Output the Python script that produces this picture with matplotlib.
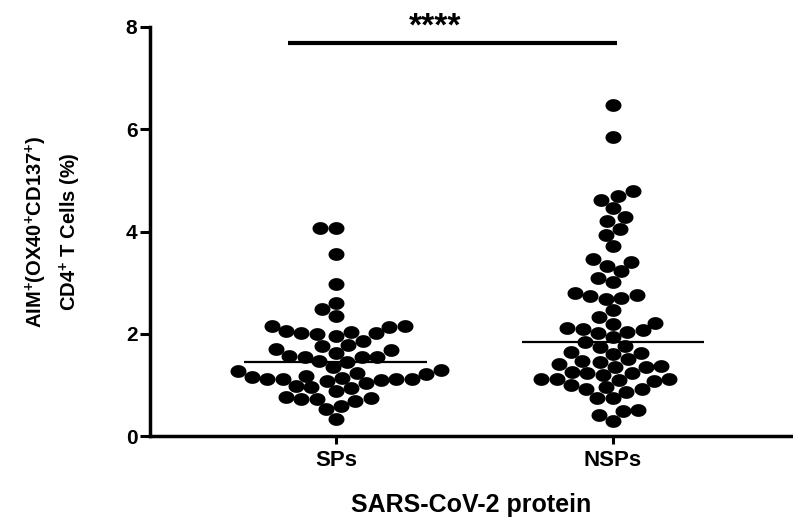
#!python3

## Import General Tools
import numpy as np
from matplotlib import pyplot as plt

plt.rcParams['font.family'] = ['Liberation Sans', 'DejaVu Sans']
plt.rcParams['font.weight'] = 'bold'
plt.rcParams['mathtext.fontset'] = 'custom'
plt.rcParams['mathtext.default'] = 'bf'
plt.rcParams['mathtext.bf'] = 'Liberation Sans:bold'
plt.rcParams['mathtext.rm'] = 'Liberation Sans:bold'

##-------------------------------------------------------------------------
## Data
##-------------------------------------------------------------------------
groups = ['SPs', 'NSPs']
sps = [4.07, 4.07, 3.56, 2.97, 2.61, 2.48, 2.35,
       2.05, 2.01, 1.96, 2.14, 1.99, 2.01, 2.16, 2.16, 2.03,
       1.86, 1.68, 1.70, 1.78, 1.76, 1.63,
       1.55, 1.56, 1.54, 1.55, 1.46, 1.45, 1.34, 1.29, 1.28,
       1.24, 1.16, 1.12, 1.12, 1.18, 1.08, 1.12, 1.21, 1.12, 1.14, 1.10, 1.03,
       0.95, 0.88, 0.98, 0.93, 0.73, 0.77, 0.75, 0.69, 0.72,
       0.59, 0.52, 0.33]
nsps = [6.47, 5.85, 4.79, 4.62, 4.69, 4.46, 4.20, 4.28, 4.05, 3.93,
        3.71, 3.46, 3.41, 3.33, 3.22, 3.10, 3.01, 2.75, 2.73, 2.80,
        2.69, 2.68, 2.46, 2.33, 2.11, 2.07, 2.22, 2.03, 2.09, 2.20,
        2.01, 1.93, 1.83, 1.76, 1.75, 1.63, 1.65, 1.60, 1.50, 1.47,
        1.44, 1.41, 1.37, 1.35, 1.35, 1.24, 1.20, 1.24, 1.26, 1.10,
        1.11, 1.11, 1.08, 1.11, 0.92, 0.96, 0.87, 0.92, 0.99, 0.75,
        0.74, 0.50, 0.48, 0.41, 0.29]
yticks = [0, 2, 4, 6, 8]
sig_label = '****'


##-------------------------------------------------------------------------
## swarm layout in pixel space
##-------------------------------------------------------------------------
def swarm_offsets(ypix, w, h, step=0.5, maxoff=250):
    cands = np.arange(-maxoff, maxoff + step, step)
    cands = cands[np.argsort(np.abs(cands), kind='stable')]
    offs = np.zeros(len(ypix))
    placed_x, placed_y = [], []
    for i in np.argsort(ypix, kind='stable'):
        ok = np.ones(len(cands), dtype=bool)
        for px, py in zip(placed_x, placed_y):
            dy = abs(ypix[i] - py)
            if dy >= h:
                continue
            half = w * np.sqrt(1 - (dy / h)**2)
            ok &= np.abs(cands - px) >= half
        off = cands[np.argmax(ok)]
        offs[i] = off
        placed_x.append(off)
        placed_y.append(ypix[i])
    return offs


W, H = 793, 521
fig = plt.figure(figsize=(W/100, H/100), dpi=100)
ax = fig.add_axes([150/W, (H-436)/H, (W-150)/W, (436-27)/H])
ax.set_xlim(-0.671, 1.65)
ax.set_ylim(0, 8)

t = np.linspace(0, 2*np.pi, 64)
dot = np.column_stack([np.cos(t), 0.8*np.sin(t)])

p0 = ax.transData.transform((0, 0))
p1 = ax.transData.transform((1, 1))
xscale = p1[0] - p0[0]
yscale = p1[1] - p0[1]

for i, vals in enumerate([sps, nsps]):
    vals = np.array(vals)
    offs = swarm_offsets(vals * yscale, w=15.5, h=12.5)
    ax.scatter(i + offs / xscale, vals, marker=dot, s=11.5**2,
               color='black', linewidths=0, zorder=3)
    med = np.median(vals)
    ax.plot([i - 0.33, i + 0.33], [med, med], color='black', lw=1.6,
            zorder=4, solid_capstyle='butt')

## significance bar
ax.plot([-0.173, 1.014], [7.69, 7.69], color='black', lw=3,
        clip_on=False, solid_capstyle='butt')
ax.text(0.357, 7.84, sig_label, ha='center', va='baseline', fontsize=24,
        fontweight='bold', clip_on=False)

ax.spines['top'].set_visible(False)
ax.spines['right'].set_visible(False)
ax.spines['left'].set_linewidth(2.5)
ax.spines['bottom'].set_linewidth(2.5)
ax.set_yticks(yticks)
ax.set_xticks([0, 1])
ax.set_xticklabels(groups)
ax.tick_params(axis='y', length=7, width=2.2, labelsize=15, pad=2)
ax.tick_params(axis='x', length=6, width=2.2, labelsize=16, pad=4)
for lab in ax.get_xticklabels() + ax.get_yticklabels():
    lab.set_fontweight('bold')

ax.set_ylabel('AIM$^{+}$(OX40$^{+}$CD137$^{+}$)\nCD4$^{+}$ T Cells (%)',
              fontsize=14.5, fontweight='bold', linespacing=1.45)
ax.yaxis.set_label_coords(-0.104, 0.5)
ax.set_xlabel('SARS-CoV-2 protein', fontsize=18, fontweight='bold',
              labelpad=16)

plt.savefig('out.png', dpi=100)
